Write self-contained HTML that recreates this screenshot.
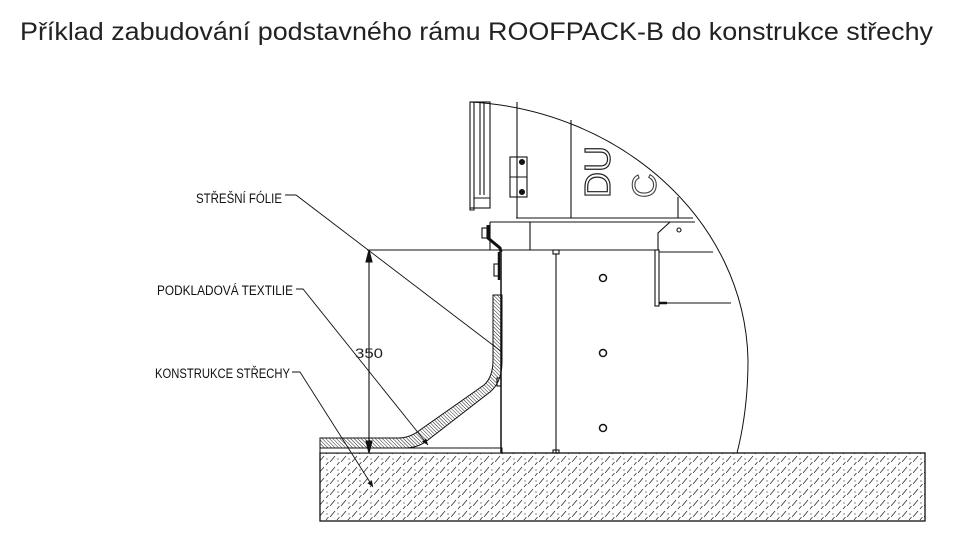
<!DOCTYPE html>
<html><head><meta charset="utf-8"><style>html,body{margin:0;padding:0;background:#fff;width:970px;height:546px;overflow:hidden}</style></head>
<body>
<svg width="970" height="546" viewBox="0 0 970 546" xmlns="http://www.w3.org/2000/svg">
<defs>
<pattern id="conc" patternUnits="userSpaceOnUse" width="11" height="11">
<path d="M0 11 L5 5 M7 3 L9.5 0" stroke="#333" stroke-width="0.8"/>
<circle cx="8" cy="8" r="0.6" fill="#333"/>
</pattern>
<pattern id="hat" patternUnits="userSpaceOnUse" width="2.5" height="2.5" patternTransform="rotate(-45)">
<line x1="0" y1="0" x2="0" y2="2.5" stroke="#222" stroke-width="1"/>
</pattern>
<marker id="ar" markerWidth="8" markerHeight="8" refX="7" refY="3" orient="auto"><path d="M0 0 L7 3 L0 6z" fill="#111"/></marker>
</defs>
<text x="20" y="40" font-family="Liberation Sans Narrow, Liberation Sans, sans-serif" font-size="25" fill="#222" textLength="913" lengthAdjust="spacingAndGlyphs">Příklad zabudování podstavného rámu ROOFPACK-B do konstrukce střechy</text>

<rect x="320" y="453" width="605" height="68" fill="url(#conc)" stroke="#111" stroke-width="1.3"/>
<rect x="320" y="448" width="182" height="5" fill="#fff" stroke="#111" stroke-width="1"/>
<path d="M320 438 L398 438 Q410 438 420 430 L484 385 Q493 377 493 360 L493 295 L502 295 L502 362 Q502 382 490 392 L428 440 Q418 448 405 448 L320 448 Z" fill="url(#hat)" stroke="#111" stroke-width="1"/>

<g stroke="#111" fill="none" stroke-width="1.1">
<line x1="367" y1="250" x2="658" y2="250"/>
<line x1="501" y1="250" x2="501" y2="453" stroke-width="1.5"/>
<line x1="556" y1="254" x2="556" y2="453"/>
<rect x="553" y="250" width="6" height="4"/><rect x="553" y="450" width="6" height="3"/>
<circle cx="603" cy="278" r="3.5" stroke-width="1.5"/>
<circle cx="603" cy="353" r="3.5" stroke-width="1.5"/>
<circle cx="603" cy="428" r="3.5" stroke-width="1.5"/>
<rect x="655" y="250" width="4" height="56"/>
<line x1="659" y1="252" x2="713" y2="252"/>
<line x1="659" y1="303" x2="731" y2="303"/>
<line x1="659" y1="303" x2="667" y2="303" stroke-width="2.5"/>
<rect x="494" y="264" width="5" height="12"/><line x1="499" y1="252" x2="499" y2="280" stroke-width="2.5"/>
<rect x="497" y="378" width="4" height="8"/>
<path d="M488 225 L488 238 L500 248 L501 252" stroke-width="3"/>
<rect x="482" y="228" width="5" height="10"/>
<line x1="490" y1="222" x2="490" y2="250"/>
<line x1="490" y1="222" x2="693" y2="222"/>
<line x1="516" y1="218" x2="693" y2="218"/>
<line x1="517" y1="102" x2="517" y2="218"/>
<line x1="530" y1="222" x2="530" y2="250"/>
<line x1="571" y1="120" x2="571" y2="218"/>
<line x1="678" y1="197" x2="678" y2="218"/>
<path d="M658 250 L658 233 L670 222 L695 222"/>
<circle cx="679" cy="230" r="2"/>
<rect x="470" y="102" width="20" height="106"/>
<line x1="474" y1="102" x2="474" y2="200"/><line x1="480" y1="102" x2="480" y2="195"/><line x1="484" y1="102" x2="484" y2="195"/>
<path d="M470 208 L470 210 L474 210 L474 198 L490 198"/>
<rect x="510" y="157" width="17" height="40"/>
<line x1="510" y1="177" x2="527" y2="177"/>
<circle cx="522" cy="162" r="2.5" fill="#111"/><circle cx="522" cy="192" r="2.5" fill="#111"/>
<path d="M470 102 C620 110 745 220 748 360 Q748 410 737 453" stroke-width="1"/>
<line x1="369" y1="262" x2="369" y2="441" />
<path d="M369 250 L366 262 L372 262 Z M369 453 L366 441 L372 441Z" fill="#111"/>
<polyline points="285,195 296,195 502,352" stroke-width="0.9"/>
<polyline points="296,289 303,289 428,445" stroke-width="0.9" marker-end="url(#ar)"/>
<polyline points="292,372 300,372 373,487" stroke-width="0.9" marker-end="url(#ar)"/>
</g>
<text x="610" y="198" transform="rotate(-90 610 198)" font-family="Liberation Sans, sans-serif" font-size="36" fill="#fff" stroke="#222" stroke-width="1.2">DU</text>
<text x="656" y="198" transform="rotate(-90 656 198)" font-family="Liberation Sans, sans-serif" font-size="34" fill="#fff" stroke="#444" stroke-width="1.1">C</text>
<text x="355" y="358" font-family="Liberation Sans, sans-serif" font-size="14" fill="#222" textLength="28" lengthAdjust="spacingAndGlyphs">350</text>
<g font-family="Liberation Sans Narrow, Liberation Sans, sans-serif" font-size="13.5" fill="#111">
<text x="196" y="203" textLength="86" lengthAdjust="spacingAndGlyphs">STŘEŠNÍ FÓLIE</text>
<text x="157" y="295" textLength="136" lengthAdjust="spacingAndGlyphs">PODKLADOVÁ TEXTILIE</text>
<text x="155" y="378" textLength="135" lengthAdjust="spacingAndGlyphs">KONSTRUKCE STŘECHY</text>
</g>
</svg>
</body></html>
